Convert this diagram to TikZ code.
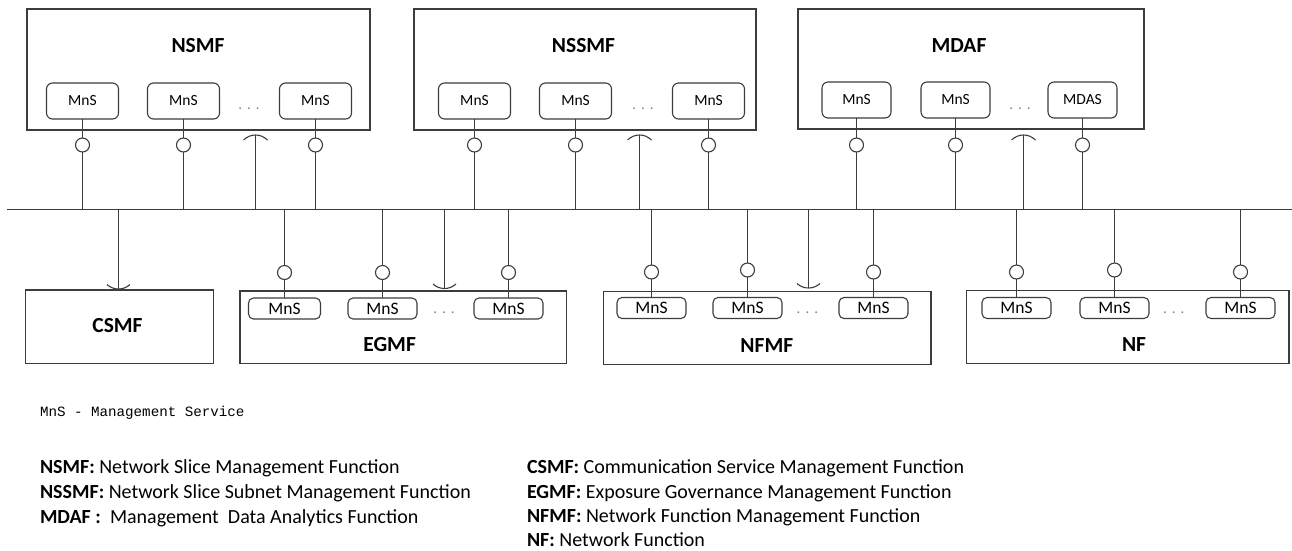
\documentclass[tikz,border=0pt]{standalone}
\usepackage{fontspec}
\setmainfont{Carlito}
\newfontfamily\monof{Liberation Mono}
\definecolor{linec}{RGB}{60,60,60}
\newcommand\SockUp[1]{\draw[ln] ([shift={(-12,5)}]#1) .. controls ([shift={(-5,-1.7)}]#1) and ([shift={(5,-1.7)}]#1) .. ([shift={(12,5)}]#1);}
\newcommand\SockDn[1]{\draw[ln] ([shift={(-11.5,-4.5)}]#1) .. controls ([shift={(-5,1.5)}]#1) and ([shift={(5,1.5)}]#1) .. ([shift={(11.5,-4.5)}]#1);}
\begin{document}
\begin{tikzpicture}[x=1pt,y=-1pt,
  every node/.style={inner sep=0pt, outer sep=0pt},
  ln/.style={draw=linec, line width=1.1pt},
  bigbox/.style={draw=linec, line width=1.2pt, rectangle},
  bigtxt/.style={font=\fontsize{21.5}{24}\selectfont\bfseries},
  mnsT/.style={draw=linec, line width=1.1pt, rounded corners=6pt, minimum width=72pt, minimum height=36pt, font=\fontsize{15.5}{18}\selectfont},
  mnsB/.style={draw=linec, line width=1.1pt, rounded corners=5pt, minimum width=69pt, minimum height=21pt, font=\fontsize{17.5}{20}\selectfont},
  iface/.style={circle, draw=linec, line width=1.1pt, fill=white, minimum size=14pt},
  dotstxt/.style={font=\fontsize{15}{16}\selectfont, text=gray},
  legtxt/.style={anchor=base west, font=\fontsize{20}{24}\selectfont},
]
\useasboundingbox (0,0) rectangle (1292,550);

% bus
\coordinate (busL) at (7,209.5);
\coordinate (busR) at (1292,209.5);
\draw[ln] (busL) -- (busR);

% ---------- NSMF ----------
\node[bigbox, minimum width=343pt, minimum height=121pt] (nsmf) at (198.5,69.5) {};
\node[bigtxt] (nsmfL) at (198,46) {NSMF};
\node[mnsT] (m11) at (82.5,101) {MnS};
\node[mnsT] (m12) at (183.5,101) {MnS};
\node[mnsT] (m13) at (315.5,101) {MnS};
\node[dotstxt] (d1) at (249,109) {.\,\,.\,\,.};
\node[iface] (c11) at (82.5,145) {};
\node[iface] (c12) at (183.5,145) {};
\node[iface] (c13) at (315.5,145) {};
\coordinate (s1) at (255.5,135);

% ---------- NSSMF ----------
\node[bigbox, minimum width=342pt, minimum height=121pt] (nssmf) at (585,69.5) {};
\node[bigtxt] (nssmfL) at (583.5,46) {NSSMF};
\node[mnsT] (m21) at (474.5,101) {MnS};
\node[mnsT] (m22) at (575.5,101) {MnS};
\node[mnsT] (m23) at (708.5,101) {MnS};
\node[dotstxt] (d2) at (643,109) {.\,\,.\,\,.};
\node[iface] (c21) at (474.5,145) {};
\node[iface] (c22) at (575.5,145) {};
\node[iface] (c23) at (708.5,145) {};
\coordinate (s2) at (639.5,135);

% ---------- MDAF ----------
\node[bigbox, minimum width=346pt, minimum height=120pt] (mdaf) at (971,69) {};
\node[bigtxt] (mdafL) at (959,46) {MDAF};
\node[mnsT, minimum width=69pt] (m31) at (856.5,100) {MnS};
\node[mnsT, minimum width=69pt] (m32) at (955.5,100) {MnS};
\node[mnsT, minimum width=69pt] (m33) at (1082.5,100) {MDAS};
\node[dotstxt] (d3) at (1020,109) {.\,\,.\,\,.};
\node[iface] (c31) at (856.5,145) {};
\node[iface] (c32) at (955.5,145) {};
\node[iface] (c33) at (1082.5,145) {};
\coordinate (s3) at (1023.5,135);

% top connectors
\foreach \m/\c in {m11/c11,m12/c12,m13/c13,m21/c21,m22/c22,m23/c23,m31/c31,m32/c32,m33/c33}{
  \draw[ln] (\m.south) -- (\c.north);
  \draw[ln] (\c.south) -- (\c.south |- busL);
}
\foreach \s in {s1,s2,s3}{
  \draw[ln] (\s) -- (\s |- busL);
  \SockUp{\s}
}

% ---------- CSMF ----------
\node[bigbox, minimum width=187.6pt, minimum height=73.3pt] (csmf) at (119.4,326.7) {};
\node[bigtxt] (csmfL) at (117.5,326) {CSMF};
\coordinate (s4) at (118.5,289);

% ---------- EGMF ----------
\node[bigbox, minimum width=326.4pt, minimum height=72.3pt] (egmf) at (403.2,327.2) {};
\node[bigtxt] (egmfL) at (389.6,345) {EGMF};
\node[mnsB, minimum width=72pt] (b11) at (284.5,308.5) {MnS};
\node[mnsB] (b12) at (382.5,308.5) {MnS};
\node[mnsB] (b13) at (508.5,308.5) {MnS};
\node[dotstxt] (d4) at (444,313) {.\,\,.\,\,.};
\node[iface] (e11) at (284.5,272.5) {};
\node[iface] (e12) at (382.5,272.5) {};
\node[iface] (e13) at (508.5,272.5) {};
\coordinate (s5) at (444.5,288.5);

% ---------- NFMF ----------
\node[bigbox, minimum width=327.5pt, minimum height=73pt] (nfmf) at (767.3,328.2) {};
\node[bigtxt] (nfmfL) at (766.8,345.7) {NFMF};
\node[mnsB] (b21) at (651.5,308) {MnS};
\node[mnsB] (b22) at (747.5,308) {MnS};
\node[mnsB] (b23) at (873.5,308) {MnS};
\node[dotstxt] (d5) at (807.4,313) {.\,\,.\,\,.};
\node[iface] (e21) at (651.5,272) {};
\node[iface] (e22) at (747.5,270) {};
\node[iface] (e23) at (873.5,272) {};
\coordinate (s6) at (808.5,288);

% ---------- NF ----------
\node[bigbox, minimum width=322.7pt, minimum height=73pt] (nf) at (1127.7,327.2) {};
\node[bigtxt] (nfL) at (1134,345) {NF};
\node[mnsB] (b31) at (1016.5,308) {MnS};
\node[mnsB] (b32) at (1114.5,308) {MnS};
\node[mnsB] (b33) at (1240.5,308) {MnS};
\node[dotstxt] (d6) at (1173.7,313) {.\,\,.\,\,.};
\node[iface] (e31) at (1016.5,272) {};
\node[iface] (e32) at (1114.5,270) {};
\node[iface] (e33) at (1240.5,272) {};

% bottom connectors
\foreach \m/\c in {b11/e11,b12/e12,b13/e13,b21/e21,b22/e22,b23/e23,b31/e31,b32/e32,b33/e33}{
  \draw[ln] (\c.north |- busL) -- (\c.north);
  \draw[ln] (\c.south) -- (\m.north);
}
\foreach \s in {s4,s5,s6}{
  \draw[ln] (\s |- busL) -- (\s);
  \SockDn{\s}
}

% ---------- legend ----------
\node[anchor=base west, font=\monof\fontsize{14.2}{16}\selectfont] (lg0) at (40,416) {MnS - Management Service};
\node[legtxt] (lg1) at (40,473.4) {\textbf{NSMF:} Network Slice Management Function};
\node[legtxt] (lg2) at (40,498.4) {\textbf{NSSMF:} Network Slice Subnet Management Function};
\node[legtxt] (lg3) at (40,523.4) {\textbf{MDAF :}\ \ Management\ \ Data Analytics Function};
\node[legtxt] (lg4) at (527,473.4) {\textbf{CSMF:} Communication Service Management Function};
\node[legtxt] (lg5) at (527,498.4) {\textbf{EGMF:} Exposure Governance Management Function};
\node[legtxt] (lg6) at (527,522.4) {\textbf{NFMF:} Network Function Management Function};
\node[legtxt] (lg7) at (527,546.4) {\textbf{NF:} Network Function};
\end{tikzpicture}
\end{document}
